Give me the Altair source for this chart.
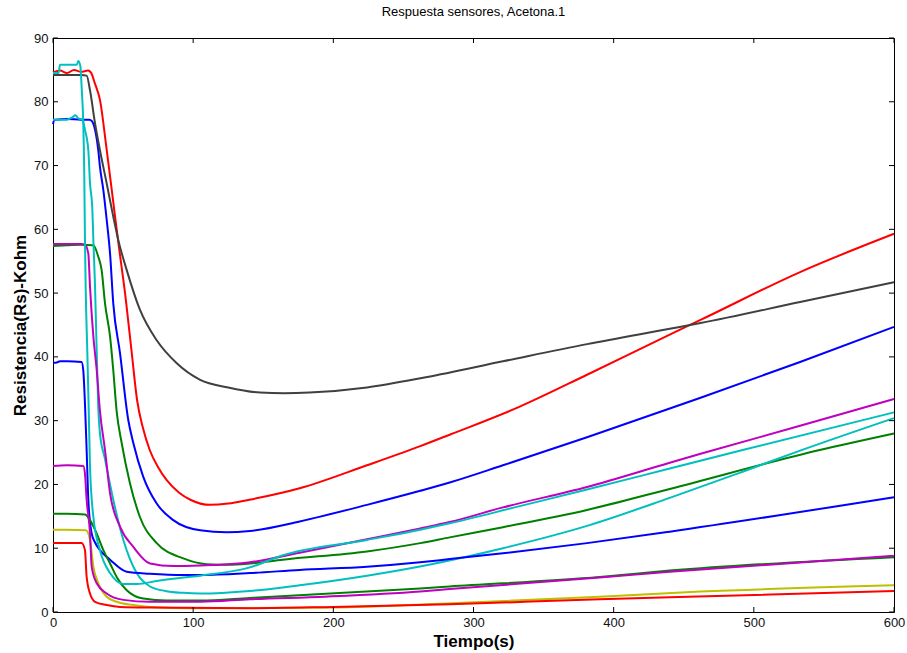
import altair as alt
import pandas as pd

# ---- data (time in s, resistance in kOhm) ----
t_red_hi = [0, 5, 10, 15, 20, 25, 27, 30, 33.5, 38, 42.8, 47, 52, 56, 60, 64, 69, 75, 81, 90, 98, 112, 125, 140, 176, 224, 262, 283, 333, 381, 440, 462, 533, 600]
v_red_hi = [84.6, 84.9, 84.5, 85.0, 84.7, 84.9, 84.6, 82.8, 80.3, 73.0, 64.6, 57.3, 48.9, 41.0, 33.2, 29.0, 25.4, 22.7, 20.7, 18.7, 17.6, 16.8, 17.0, 17.6, 19.4, 23.0, 26.0, 27.8, 32.2, 37.2, 43.5, 45.8, 53.3, 59.3]

t_gray = [0, 10, 20, 24, 26.4, 30, 33.5, 38.3, 43, 46.6, 52.6, 62, 74, 88.3, 105, 125, 147.7, 165, 183, 224, 266, 321, 381, 440, 462, 533, 600]
v_gray = [84.2, 84.2, 84.2, 84.1, 81.8, 76.6, 72.4, 67.2, 62.0, 58.3, 53.6, 47.4, 42.6, 39.0, 36.4, 35.2, 34.4, 34.3, 34.4, 35.2, 36.8, 39.3, 42.0, 44.4, 45.3, 48.6, 51.7]

t_cyan_a = [0, 4, 5, 17, 18, 19.5, 20.5, 21.6, 22.3, 22.8, 23.3, 24.5, 25.5, 26.4, 28.8, 33.5, 40.7, 50.2, 60, 75, 93, 105, 140.5, 164, 224, 262, 283, 333, 381, 440, 492, 600]
v_cyan_a = [84.5, 84.5, 85.8, 85.8, 86.4, 85.6, 82.0, 76.6, 68.8, 58.3, 51.0, 40.6, 31.5, 22.8, 14.9, 9.7, 6.1, 4.4, 4.4, 4.9, 5.4, 5.7, 7.0, 8.9, 11.3, 12.9, 13.9, 16.6, 19.2, 22.5, 25.4, 31.3]

t_cyan_b = [0, 10, 14, 16, 18, 21, 22.8, 25.2, 26.4, 28, 28.8, 30, 31.2, 32.3, 33.5, 37.1, 43, 50.2, 59.7, 69.2, 80, 93, 105, 140.5, 176, 224, 270, 321, 381, 440, 492, 533, 600]
v_cyan_b = [77.2, 77.2, 77.6, 77.9, 77.4, 77.2, 75.6, 72.4, 67.2, 63.5, 58.3, 51.0, 40.6, 32.0, 28.0, 24.0, 17.6, 11.3, 6.1, 4.0, 3.3, 3.0, 2.9, 3.3, 4.2, 5.7, 7.5, 10.0, 13.5, 17.9, 22.0, 25.3, 30.4]

t_blue_hi = [0, 1, 2, 10, 20, 26, 27.6, 30, 32.3, 33.5, 35.9, 38.3, 40.7, 43, 47.8, 53.7, 57.3, 64.4, 74, 85.8, 105, 124, 140.5, 176, 224, 262, 283, 321, 381, 440, 462, 533, 600]
v_blue_hi = [76.5, 77.2, 77.2, 77.3, 77.2, 77.2, 77.0, 75.6, 72.4, 69.8, 66.2, 61.5, 56.2, 48.4, 40.6, 30.1, 26.5, 21.2, 17.0, 14.4, 12.8, 12.5, 12.7, 14.2, 16.8, 19.0, 20.3, 23.0, 27.4, 31.9, 33.6, 39.2, 44.7]

t_green_hi = [0, 10, 20, 28.8, 32.3, 34.7, 37.1, 40.7, 43, 45.4, 49, 54.9, 62, 74, 93, 109.6, 125, 140.5, 164, 224, 262, 283, 321, 381, 440, 547, 600]
v_green_hi = [57.4, 57.5, 57.6, 57.5, 55.7, 53.6, 48.4, 43.2, 37.9, 31.5, 26.5, 20.2, 14.9, 10.8, 8.4, 7.5, 7.4, 7.6, 8.2, 9.5, 10.8, 11.7, 13.3, 16.0, 19.3, 25.4, 28.0]

t_mag_hi = [0, 10, 20, 22.8, 25.2, 26.4, 28.8, 31.2, 33.5, 37.1, 40.7, 47.8, 57.3, 69.2, 85.8, 105, 140.5, 176, 224, 262, 283, 321, 381, 440, 462, 533, 600]
v_mag_hi = [57.7, 57.7, 57.7, 57.6, 56.2, 51.0, 43.2, 37.9, 31.5, 25.4, 18.6, 13.4, 10.2, 7.6, 7.2, 7.3, 7.8, 9.3, 11.4, 13.1, 14.1, 16.4, 19.6, 23.4, 24.8, 29.2, 33.4]

t_blue_lo = [0, 2, 5, 10, 20.4, 21.6, 22.8, 24, 25.2, 27.6, 30, 33.5, 40.7, 52.6, 69.2, 93, 105, 140.5, 176, 224, 262, 283, 321, 381, 440, 600]
v_blue_lo = [39.1, 39.1, 39.3, 39.3, 39.2, 37.9, 32.7, 25.4, 17.6, 12.3, 10.9, 9.7, 8.2, 6.3, 6.0, 5.8, 5.8, 6.1, 6.6, 7.1, 7.8, 8.3, 9.2, 10.8, 12.6, 18.0]

t_mag_lo = [0, 10, 21.6, 22.8, 24, 26.4, 27.6, 31.2, 38.3, 50.2, 69.2, 105, 140.5, 194, 262, 283, 390, 440, 600]
v_mag_lo = [22.9, 23.0, 22.9, 21.7, 17.6, 12.3, 7.1, 4.5, 2.9, 1.9, 1.6, 1.6, 2.0, 2.4, 3.2, 3.6, 5.4, 6.3, 8.8]

t_green_lo = [0, 10, 22.8, 26.4, 31.2, 35.9, 40.7, 45.4, 52.6, 64.4, 81.1, 105, 140.5, 262, 283, 390, 440, 600]
v_green_lo = [15.4, 15.4, 15.3, 14.4, 12.3, 9.7, 7.6, 5.5, 3.4, 2.1, 1.8, 1.8, 2.2, 3.7, 4.0, 5.5, 6.5, 8.6]

t_olive = [0, 10, 23.5, 26.4, 28.8, 32.3, 38.3, 45.4, 57.3, 69.2, 100, 200, 276, 390, 462, 600]
v_olive = [12.9, 12.9, 12.8, 11.3, 7.1, 4.5, 2.4, 1.6, 1.1, 0.8, 0.6, 0.7, 1.3, 2.4, 3.2, 4.2]

t_red_lo = [0, 10, 20.4, 22.8, 24, 26.4, 30, 38.3, 47.8, 69.2, 140.5, 200, 283, 390, 440, 600]
v_red_lo = [10.8, 10.8, 10.8, 9.7, 5.5, 2.9, 1.6, 1.1, 0.8, 0.7, 0.6, 0.8, 1.2, 2.0, 2.3, 3.3]

# series in MATLAB colour-order (drawing order)
series_names = ["s1", "s2", "s3", "s4", "s5", "s6", "s7", "s8", "s9", "s10", "s11", "s12"]
series_colors = ["#0000FF", "#008000", "#FF0000", "#00BFBF", "#BF00BF", "#BFBF00", "#404040",
                 "#0000FF", "#008000", "#FF0000", "#00BFBF", "#BF00BF"]
series_widths = [2, 2, 2, 2, 2, 2, 2, 2, 1, 2, 2, 2]
series_data = [
    (t_blue_hi, v_blue_hi), (t_green_hi, v_green_hi), (t_red_hi, v_red_hi),
    (t_cyan_b, v_cyan_b), (t_mag_hi, v_mag_hi), (t_olive, v_olive), (t_gray, v_gray),
    (t_blue_lo, v_blue_lo), (t_green_lo, v_green_lo), (t_red_lo, v_red_lo),
    (t_cyan_a, v_cyan_a), (t_mag_lo, v_mag_lo),
]

x_ticks = [0, 100, 200, 300, 400, 500, 600]
y_ticks = [0, 10, 20, 30, 40, 50, 60, 70, 80, 90]

rows = []
for k, (name, (ts, vs)) in enumerate(zip(series_names, series_data)):
    for t, v in zip(ts, vs):
        rows.append({"serie": name, "order": k, "t": t, "v": v})
df = pd.DataFrame(rows)

W, H = 841, 574
TICK = 5
FONT = "Liberation Sans"

xscale = alt.Scale(domain=[0, 600], nice=False, zero=False)
yscale = alt.Scale(domain=[0, 90], nice=False, zero=False)
x_axis = alt.Axis(values=x_ticks, title="Tiempo(s)", ticks=False, tickSize=0, domain=False,
                  grid=False, labelPadding=4, titlePadding=4, format="d", labelFlush=False,
                  labelOverlap=False)
y_axis = alt.Axis(values=y_ticks, title="Resistencia(Rs)-Kohm", ticks=False, tickSize=0,
                  domain=False, grid=False, labelPadding=5, titlePadding=4, format="d",
                  labelFlush=False, labelOverlap=False)
X = alt.X("t:Q", scale=xscale, axis=x_axis)
Y = alt.Y("v:Q", scale=yscale, axis=y_axis)

lines = alt.Chart(df).mark_line(interpolate="monotone", strokeCap="butt", strokeJoin="round").encode(
    x=X, y=Y,
    color=alt.Color("serie:N", scale=alt.Scale(domain=series_names, range=series_colors), legend=None),
    strokeWidth=alt.StrokeWidth("serie:N", scale=alt.Scale(domain=series_names, range=series_widths), legend=None),
    order=alt.Order("order:Q"),
)

xt = pd.DataFrame({"t": x_ticks})
yt = pd.DataFrame({"v": y_ticks})

tick_bottom = alt.Chart(xt).mark_rule(color="black", strokeWidth=1).encode(
    x=X, y=alt.value(H), y2=alt.value(H - TICK))
tick_top = alt.Chart(xt).mark_rule(color="black", strokeWidth=1).encode(
    x=X, y=alt.value(0), y2=alt.value(TICK))
tick_left = alt.Chart(yt).mark_rule(color="black", strokeWidth=1).encode(
    y=Y, x=alt.value(0), x2=alt.value(TICK))
tick_right = alt.Chart(yt).mark_rule(color="black", strokeWidth=1).encode(
    y=Y, x=alt.value(W), x2=alt.value(W - TICK))

chart = alt.layer(lines, tick_bottom, tick_top, tick_left, tick_right).properties(
    width=W, height=H,
    title=alt.TitleParams("Respuesta sensores, Acetona.1", font=FONT, fontSize=13, fontWeight="normal",
                          color="black", offset=13, anchor="middle"),
    autosize=alt.AutoSizeParams(type="none"),
    padding={"left": 53, "top": 38, "right": 13, "bottom": 41},
    background="white",
).configure_view(stroke="black", strokeWidth=1).configure_axis(
    labelFont=FONT, labelFontSize=13, labelColor="#111111",
    titleFont=FONT, titleFontSize=17, titleFontWeight="bold", titleColor="black",
)

chart.save("out.html", embed_options={"renderer": "svg", "actions": False})
